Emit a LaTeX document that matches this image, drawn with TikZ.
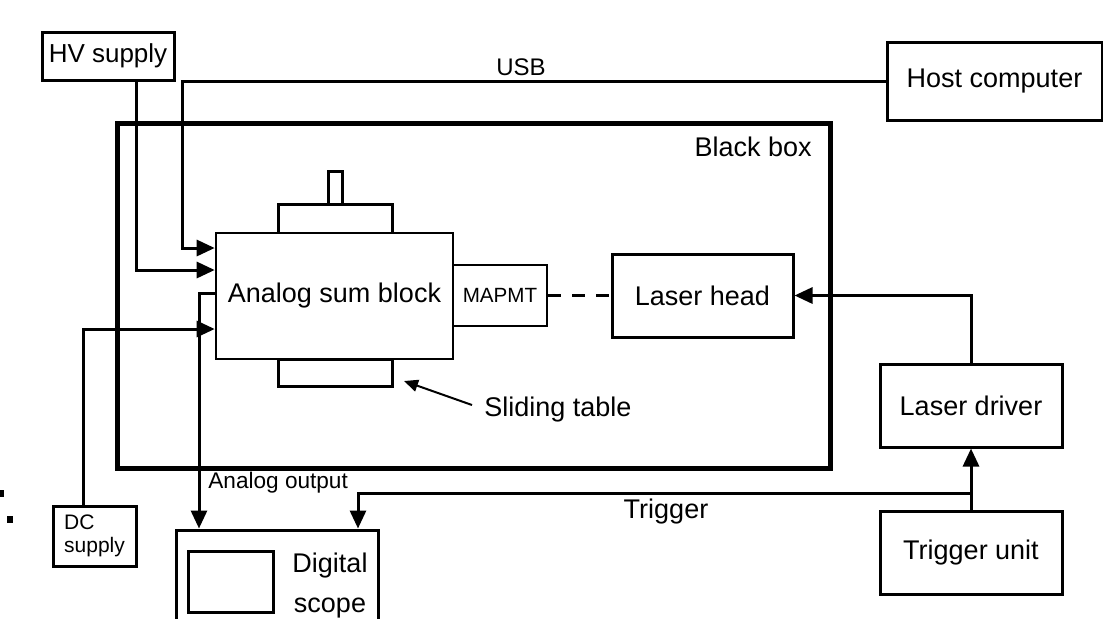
\documentclass[tikz,border=0pt]{standalone}
\usepackage{fontspec}
\setmainfont{Liberation Sans}
\usetikzlibrary{arrows.meta}
\tikzset{
  px/.style={x=0.5pt,y=-0.5pt},
  box/.style={draw,line width=1.5pt,inner sep=0pt,fill=white,font=\fontsize{13.5}{16}\selectfont},
  thickbox/.style={draw,line width=2.5pt,inner sep=0pt},
  conn/.style={line width=1.5pt},
  tip/.style={-{Triangle[length=9pt,width=8pt]}},
  smalltip/.style={-{Triangle[length=7pt,width=6pt]}},
  lbl/.style={inner sep=0pt,font=\fontsize{13.5}{16}\selectfont}
}
\begin{document}
\begin{tikzpicture}[px]
\useasboundingbox (0,0) rectangle (1103,618);
\clip (0,0) rectangle (1103,618);
% stray marks at the left edge
\fill (0,490) rectangle (4,497);
\fill (7,516) rectangle (13,523);
% black box
\node[thickbox,minimum width=356.5pt,minimum height=172.5pt] (bb) at (473.5,295.5) {};
\node[lbl,anchor=east] (bbl) at (812,147) {Black box};
% boxes
\node[box,minimum width=66pt,minimum height=24pt,font=\fontsize{13}{16}\selectfont] (hv) at (108,56) {HV supply};
\node[box,minimum width=107.5pt,minimum height=39pt] (hc) at (994.5,81) {Host computer};
\node[box,minimum width=7pt,minimum height=16.5pt] (knob) at (335,187.5) {};
\node[box,minimum width=57pt,minimum height=14.5pt] (tt) at (335,218.5) {};
\node[box,minimum width=57pt,minimum height=13.5pt] (bt) at (335,372.5) {};
\node[box,line width=1.3pt,minimum width=118.5pt,minimum height=63pt] (asb) at (334.5,296) {\raisebox{1.5pt}{Analog sum block}};
\node[box,line width=1.3pt,minimum width=47pt,minimum height=30.5pt,font=\fontsize{10.3}{12}\selectfont] (mp) at (500,295.5) {MAPMT};
\node[box,minimum width=90.5pt,minimum height=41.5pt] (lh) at (702.5,295.5) {Laser head};
\node[box,minimum width=91pt,minimum height=41.5pt] (ld) at (971,405.5) {Laser driver};
\node[box,minimum width=91pt,minimum height=41.5pt] (tu) at (971,552.5) {Trigger unit};
\node[box,minimum width=41.5pt,minimum height=30pt,align=left,font=\fontsize{10.5}{11.5}\selectfont] (dc) at (94.5,536) {DC\\supply};
\node[box,minimum width=101pt,minimum height=55pt] (ds) at (277,585) {};
\node[box,minimum width=42.5pt,minimum height=30.5pt] (scr) at (230.5,581.5) {};
\node[lbl,align=center,font=\fontsize{13.5}{20}\selectfont] (dsl) at (330,586) {Digital\\scope};
% labels
\node[lbl,font=\fontsize{12}{14}\selectfont] (usb) at (521,67) {USB};
\node[lbl] (trg) at (666,512) {Trigger};
\node[lbl,anchor=west,font=\fontsize{11.3}{13}\selectfont] (ao) at (208,483) {Analog output};
\node[lbl,anchor=west] (slt) at (484,410) {Sliding table};
% coordinates
\coordinate (u1) at (182,248);
\coordinate (h1) at (136,270);
\coordinate (d1) at (83,329);
\coordinate (a1) at (199,293);
\coordinate (t1) at (971,493);
\coordinate (t2) at (358,493);
\coordinate (s0) at (472,405);
\coordinate (s1) at (404,381);
% connectors
\draw[conn,tip] (hc.west) -| (u1) -- (u1 -| asb.west);
\draw[conn,tip] (h1 |- hv.south) -- (h1) -- (h1 -| asb.west);
\draw[conn,tip] (d1 |- dc.north) -- (d1) -- (d1 -| asb.west);
\draw[conn,tip] (a1 -| asb.west) -- (a1) -- (a1 |- ds.north);
\draw[conn,tip] (t1) -- (t2) -- (t2 |- ds.north);
\draw[conn,tip] (tu.north) -- (ld.south);
\draw[conn,tip] (ld.north) |- (lh.east);
\draw[conn,dash pattern=on 6.5pt off 5.5pt] (mp.east) -- (lh.west);
\draw[line width=1pt,smalltip] (s0) -- (s1);
\end{tikzpicture}
\end{document}
